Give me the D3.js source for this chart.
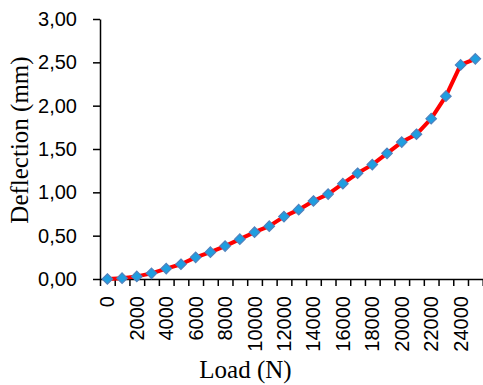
<!DOCTYPE html>
<html>
<head>
<meta charset="utf-8">
<script src="https://cdn.jsdelivr.net/npm/d3@7"></script>
<style>
  html, body { margin: 0; padding: 0; background: #fff; }
  svg { display: block; }
</style>
</head>
<body>
<script>
// Data
const loads = [0,1000,2000,3000,4000,5000,6000,7000,8000,9000,10000,11000,12000,
               13000,14000,15000,16000,17000,18000,19000,20000,21000,22000,23000,24000,25000];
const deflection = [0,0.01,0.03,0.065,0.12,0.17,0.25,0.31,0.38,0.46,0.54,0.61,0.72,
                    0.80,0.90,0.98,1.10,1.22,1.32,1.45,1.58,1.67,1.85,2.11,2.47,2.54];
const yTicks = [0,0.5,1,1.5,2,2.5,3];
const xLabelCategories = [0,2000,4000,6000,8000,10000,12000,14000,16000,18000,20000,22000,24000];
const xTitle = "Load (N)";
const yTitle = "Deflection (mm)";

const W = 483, H = 385;
const mLeft = 100, mRight = 482.7, mTop = 19, mBottom = 279;

const svg = d3.select("body").append("svg").attr("width", W).attr("height", H);

const x = d3.scaleBand().domain(loads).range([mLeft, mRight]).padding(0);
const xEdge = d3.scaleLinear().domain([0, loads.length]).range([mLeft, mRight]);
const y = d3.scaleLinear().domain([0, 3]).range([mBottom, mTop]);

const loc = d3.formatLocale({decimal: ",", thousands: ".", grouping: [3], currency: ["", ""]});
const fmt = loc.format(".2f");

// Y axis
const gy = svg.append("g").attr("transform", `translate(${mLeft},0)`)
  .call(d3.axisLeft(y).tickValues(yTicks).tickFormat(fmt).tickSize(7).tickPadding(16).tickSizeOuter(0));
gy.select(".domain").attr("stroke", "#000").attr("stroke-width", 1.5);
gy.selectAll(".tick line").attr("stroke", "#000").attr("stroke-width", 1.5);
gy.selectAll(".tick text").attr("font-family", "'Liberation Sans', Arial, sans-serif")
  .attr("font-size", 20).attr("fill", "#000");

// X axis tick marks (between categories)
const gxt = svg.append("g").attr("transform", `translate(0,${mBottom})`)
  .call(d3.axisBottom(xEdge).tickValues(d3.range(loads.length + 1)).tickFormat("").tickSize(7).tickSizeOuter(0));
gxt.select(".domain").attr("stroke", "#000").attr("stroke-width", 1.5);
gxt.selectAll(".tick line").attr("stroke", "#000").attr("stroke-width", 1.5);

// X labels
const gxl = svg.append("g").attr("transform", `translate(0,${mBottom})`)
  .call(d3.axisBottom(x).tickValues(xLabelCategories).tickSize(0).tickSizeOuter(0));
gxl.select(".domain").remove();
gxl.selectAll(".tick text")
  .attr("font-family", "'Liberation Sans', Arial, sans-serif")
  .attr("font-size", 20).attr("fill", "#000")
  .attr("x", 0).attr("y", 0).attr("dy", "0.35em")
  .attr("text-anchor", "end")
  .attr("transform", "translate(0,17) rotate(-90)");

// Line
const line = d3.line().x((d, i) => x(loads[i]) + x.bandwidth() / 2).y(d => y(d));
svg.append("path").datum(deflection)
  .attr("d", line).attr("fill", "none").attr("stroke", "#ff0000")
  .attr("stroke-width", 4).attr("stroke-linejoin", "round");

// Markers
const sym = d3.symbol().type(d3.symbolDiamond2).size(70);
svg.append("g").selectAll("path").data(deflection).join("path")
  .attr("d", sym)
  .attr("transform", (d, i) => `translate(${x(loads[i]) + x.bandwidth() / 2},${y(d)})`)
  .attr("fill", "#1f9ee0").attr("stroke", "#4f81bd").attr("stroke-width", 1.2);

// Titles
svg.append("text").text(xTitle)
  .attr("x", 245.5).attr("y", 378).attr("text-anchor", "middle")
  .style("font-family", "'Liberation Serif', serif")
  .style("font-size", "25px").style("font-weight", "normal").attr("fill", "#000");

svg.append("text").text(yTitle)
  .attr("transform", "translate(28,140) rotate(-90)")
  .attr("text-anchor", "middle")
  .style("font-family", "'Liberation Serif', serif")
  .style("font-size", "25px").style("font-weight", "normal").attr("fill", "#000");
</script>
</body>
</html>
